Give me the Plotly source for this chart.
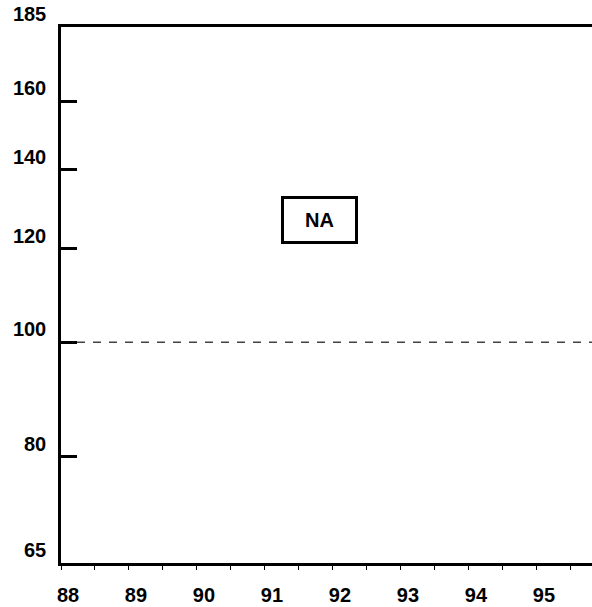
import math
import plotly.graph_objects as go

# ---- data ----
years = [88, 89, 90, 91, 92, 93, 94, 95]
year_labels = ["88", "89", "90", "91", "92", "93", "94", "95"]
x_start = 88
x_end = 95.81
y_ticks = [65, 80, 100, 120, 140, 160, 185]
y_tick_labels = ["65", "80", "100", "120", "140", "160", "185"]
ref_level = 100
na_text = "NA"
na_x = 91.8
na_y = 127

FONT = "Liberation Sans, Arial, sans-serif"

fig = go.Figure()

fig.add_trace(go.Scatter(
    x=[x_start, x_end], y=[ref_level, ref_level],
    mode="lines",
    line=dict(color="#444444", width=1.3, dash="8px,8px"),
    showlegend=False, hoverinfo="skip",
))

# annotation on a log axis takes log10 of the value
fig.add_annotation(
    x=na_x, y=math.log10(na_y), xref="x", yref="y",
    text="<b>" + na_text + "</b>",
    showarrow=False,
    font=dict(family=FONT, size=20, color="black"),
    bordercolor="black", borderwidth=3, borderpad=2,
    bgcolor="white", width=67, height=38,
)

fig.update_layout(
    width=592, height=607,
    margin=dict(l=61, r=0, t=27, b=44),
    paper_bgcolor="white", plot_bgcolor="white",
    showlegend=False,
    font=dict(family=FONT, size=19, color="black"),
    xaxis=dict(
        range=[x_start, x_end],
        automargin=False,
        tickvals=years, ticktext=year_labels,
        ticks="outside", ticklen=4, tickwidth=1, tickcolor="black",
        minor=dict(dtick=0.5, ticks="outside", ticklen=4, tickwidth=1, tickcolor="black"),
        showline=True, linecolor="black", linewidth=3, mirror=True,
        showgrid=False, zeroline=False,
        tickfont=dict(family=FONT, size=20, color="black", weight="bold"),
        ticklabelshift=7, ticklabelstandoff=8,
    ),
    yaxis=dict(
        type="log",
        automargin=False,
        range=[math.log10(y_ticks[0]), math.log10(y_ticks[-1])],
        tickvals=y_ticks, ticktext=y_tick_labels,
        ticks="inside", ticklen=16, tickwidth=3, tickcolor="black",
        showline=True, linecolor="black", linewidth=2.5,
        showgrid=False, zeroline=False,
        tickfont=dict(family=FONT, size=20, color="black", weight="bold"),
        ticklabelshift=-13, ticklabelstandoff=8,
    ),
)

fig.write_html(
    "out.html",
    config={"displayModeBar": False},
    post_script="document.body.style.margin='0';document.body.style.overflow='hidden';",
)
